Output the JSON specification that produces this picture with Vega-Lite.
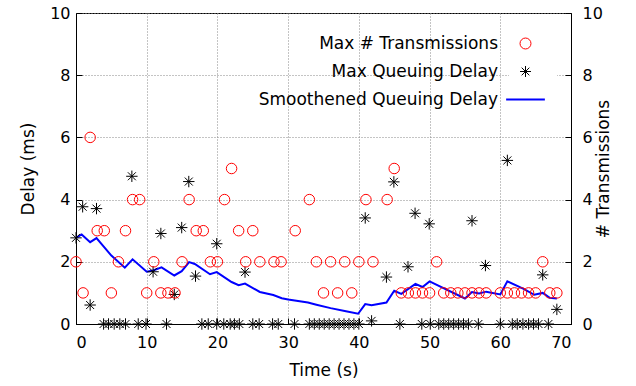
{
  "$schema": "https://vega.github.io/schema/vega-lite/v6.json",
  "width": 495,
  "height": 311,
  "autosize": {"type": "none"},
  "padding": {"left": 76, "top": 13, "right": 65, "bottom": 62},
  "background": "white",
  "config": {
    "font": "DejaVu Sans",
    "view": {"stroke": "black", "strokeWidth": 1},
    "axis": {
      "labelFontSize": 16,
      "titleFontSize": 17,
      "labelColor": "black",
      "titleColor": "black",
      "titleFontWeight": "normal",
      "domainColor": "black",
      "tickColor": "black",
      "gridColor": "#888888",
      "gridDash": [1, 2],
      "gridOpacity": 1,
      "tickSize": -6
    },
    "legend": {
      "title": null,
      "orient": "top-right",
      "offset": 14,
      "padding": 8,
      "labelFontSize": 17,
      "labelColor": "black",
      "labelLimit": 400,
      "labelAlign": "right",
      "labelOffset": -36,
      "fillColor": "white",
      "rowPadding": 10,
      "symbolStrokeWidth": 1
    }
  },
  "datasets": {
    "tx": [
      {"t": 0, "v": 2}, {"t": 1, "v": 1}, {"t": 2, "v": 6}, {"t": 3, "v": 3}, {"t": 4, "v": 3},
      {"t": 5, "v": 1}, {"t": 6, "v": 2}, {"t": 7, "v": 3}, {"t": 8, "v": 4}, {"t": 9, "v": 4},
      {"t": 10, "v": 1}, {"t": 11, "v": 2}, {"t": 12, "v": 1}, {"t": 13, "v": 1}, {"t": 14, "v": 1},
      {"t": 15, "v": 2}, {"t": 16, "v": 4}, {"t": 17, "v": 3}, {"t": 18, "v": 3}, {"t": 19, "v": 2},
      {"t": 20, "v": 2}, {"t": 21, "v": 4}, {"t": 22, "v": 5}, {"t": 23, "v": 3}, {"t": 24, "v": 2},
      {"t": 25, "v": 3}, {"t": 26, "v": 2}, {"t": 28, "v": 2}, {"t": 29, "v": 2}, {"t": 31, "v": 3},
      {"t": 33, "v": 4}, {"t": 34, "v": 2}, {"t": 35, "v": 1}, {"t": 36, "v": 2}, {"t": 37, "v": 1},
      {"t": 38, "v": 2}, {"t": 39, "v": 1}, {"t": 40, "v": 2}, {"t": 41, "v": 4}, {"t": 42, "v": 2},
      {"t": 44, "v": 4}, {"t": 45, "v": 5}, {"t": 46, "v": 1}, {"t": 47, "v": 1}, {"t": 48, "v": 1},
      {"t": 49, "v": 1}, {"t": 50, "v": 1}, {"t": 51, "v": 2}, {"t": 52, "v": 1}, {"t": 53, "v": 1},
      {"t": 54, "v": 1}, {"t": 55, "v": 1}, {"t": 56, "v": 1}, {"t": 57, "v": 1}, {"t": 58, "v": 1},
      {"t": 60, "v": 1}, {"t": 61, "v": 1}, {"t": 62, "v": 1}, {"t": 63, "v": 1}, {"t": 64, "v": 1},
      {"t": 65, "v": 1}, {"t": 66, "v": 2}, {"t": 67, "v": 1}, {"t": 68, "v": 1}
    ],
    "qd": [
      {"t": 0, "v": 2.77}, {"t": 0.94, "v": 3.77}, {"t": 2, "v": 0.61}, {"t": 2.9, "v": 3.71},
      {"t": 3.9, "v": 0}, {"t": 4.6, "v": 0}, {"t": 5.4, "v": 0}, {"t": 6.2, "v": 0}, {"t": 7.0, "v": 0},
      {"t": 7.9, "v": 4.75}, {"t": 8.8, "v": 0}, {"t": 9.9, "v": 0}, {"t": 10.9, "v": 1.68},
      {"t": 12, "v": 2.91}, {"t": 12.8, "v": 0}, {"t": 13.9, "v": 0.95}, {"t": 14.95, "v": 3.1},
      {"t": 15.95, "v": 4.58}, {"t": 16.9, "v": 1.54}, {"t": 17.8, "v": 0}, {"t": 18.7, "v": 0},
      {"t": 19.9, "v": 2.58}, {"t": 19.9, "v": 0}, {"t": 20.9, "v": 0}, {"t": 21.8, "v": 0},
      {"t": 22.4, "v": 0}, {"t": 23.1, "v": 0}, {"t": 23.9, "v": 1.67}, {"t": 25.0, "v": 0},
      {"t": 25.9, "v": 0}, {"t": 27.8, "v": 0}, {"t": 28.6, "v": 0}, {"t": 30.9, "v": 0},
      {"t": 33.0, "v": 0}, {"t": 33.7, "v": 0}, {"t": 34.4, "v": 0}, {"t": 35.1, "v": 0},
      {"t": 35.8, "v": 0}, {"t": 36.5, "v": 0}, {"t": 37.2, "v": 0}, {"t": 37.9, "v": 0},
      {"t": 38.6, "v": 0}, {"t": 39.3, "v": 0}, {"t": 40.0, "v": 0}, {"t": 40.9, "v": 3.41},
      {"t": 41.8, "v": 0.1}, {"t": 43.9, "v": 1.51}, {"t": 44.95, "v": 4.57}, {"t": 45.8, "v": 0},
      {"t": 46.95, "v": 1.84}, {"t": 47.95, "v": 3.56}, {"t": 48.9, "v": 0}, {"t": 49.95, "v": 3.22},
      {"t": 50.1, "v": 0}, {"t": 51.3, "v": 0}, {"t": 52.0, "v": 0}, {"t": 52.7, "v": 0},
      {"t": 53.4, "v": 0}, {"t": 54.1, "v": 0}, {"t": 54.8, "v": 0}, {"t": 55.5, "v": 0},
      {"t": 56, "v": 3.32}, {"t": 56.9, "v": 0}, {"t": 57.9, "v": 1.88}, {"t": 60.0, "v": 0},
      {"t": 61, "v": 5.26}, {"t": 61.7, "v": 0}, {"t": 62.4, "v": 0}, {"t": 63.2, "v": 0},
      {"t": 64.0, "v": 0}, {"t": 64.7, "v": 0}, {"t": 65.4, "v": 0}, {"t": 66, "v": 1.58},
      {"t": 66.8, "v": 0}, {"t": 68, "v": 0.47}
    ],
    "sm": [
      {"t": 0, "v": 2.77}, {"t": 0.8, "v": 2.88}, {"t": 2, "v": 2.63}, {"t": 2.9, "v": 2.76},
      {"t": 5, "v": 2.2}, {"t": 6.9, "v": 1.81}, {"t": 8, "v": 2.08}, {"t": 10, "v": 1.68},
      {"t": 10.9, "v": 1.72}, {"t": 12.1, "v": 1.82}, {"t": 13.9, "v": 1.56}, {"t": 14.95, "v": 1.7},
      {"t": 16, "v": 1.99}, {"t": 16.8, "v": 1.93}, {"t": 18.95, "v": 1.6}, {"t": 19.9, "v": 1.67},
      {"t": 22, "v": 1.35}, {"t": 23, "v": 1.25}, {"t": 23.9, "v": 1.3}, {"t": 26, "v": 1.03},
      {"t": 27.9, "v": 0.93}, {"t": 29.1, "v": 0.83}, {"t": 30, "v": 0.79}, {"t": 32.8, "v": 0.69},
      {"t": 34, "v": 0.62}, {"t": 36, "v": 0.51}, {"t": 38, "v": 0.42}, {"t": 39.9, "v": 0.33},
      {"t": 40.9, "v": 0.64}, {"t": 41.8, "v": 0.6}, {"t": 43.9, "v": 0.69}, {"t": 45, "v": 1.07},
      {"t": 46, "v": 0.97}, {"t": 48, "v": 1.29}, {"t": 49, "v": 1.19}, {"t": 50, "v": 1.37},
      {"t": 55, "v": 0.82}, {"t": 56, "v": 1.03}, {"t": 57, "v": 0.98}, {"t": 58, "v": 1.04},
      {"t": 60, "v": 0.95}, {"t": 61, "v": 1.37}, {"t": 63.3, "v": 1.13}, {"t": 64.8, "v": 0.94},
      {"t": 66, "v": 1.0}, {"t": 67, "v": 0.84}, {"t": 68, "v": 0.82}
    ]
  },
  "layer": [
    {
      "layer": [
        {
          "data": {"name": "sm"},
          "transform": [{"calculate": "'Smoothened Queuing Delay'", "as": "series"}],
          "mark": {"type": "line", "strokeWidth": 2, "clip": true},
          "encoding": {
            "x": {"field": "t", "type": "quantitative"},
            "y": {"field": "v", "type": "quantitative"},
            "color": {
              "field": "series", "type": "nominal",
              "legend": {
                "encode": {
                  "symbols": {
                    "update": {
                      "size": {"signal": "datum.value === 'Smoothened Queuing Delay' ? 1500 : 120"},
                      "strokeWidth": {"signal": "datum.value === 'Smoothened Queuing Delay' ? 2 : 1"}
                    },
                    "size": {"signal": "datum.value === 'Smoothened Queuing Delay' ? 1500 : 120"},
                    "strokeWidth": {"signal": "datum.value === 'Smoothened Queuing Delay' ? 2 : 1"}
                  }
                }
              }
            }
          }
        },
        {
          "data": {"name": "qd"},
          "transform": [{"calculate": "'Max Queuing Delay'", "as": "series"}],
          "mark": {"type": "point", "filled": false, "opacity": 1, "size": 130, "strokeWidth": 1},
          "encoding": {
            "x": {"field": "t", "type": "quantitative"},
            "y": {"field": "v", "type": "quantitative"},
            "color": {"field": "series", "type": "nominal"},
            "shape": {"field": "series", "type": "nominal"}
          }
        }
      ],
      "encoding": {
        "x": {
          "field": "t", "type": "quantitative",
          "scale": {"domain": [0, 70], "nice": false},
          "axis": {"title": "Time (s)", "values": [0, 10, 20, 30, 40, 50, 60, 70], "grid": true, "labelPadding": 16, "titlePadding": 12}
        },
        "y": {
          "field": "v", "type": "quantitative",
          "scale": {"domain": [0, 10], "nice": false},
          "axis": {"title": "Delay (ms)", "orient": "left", "values": [0, 2, 4, 6, 8, 10], "grid": true, "labelPadding": 12, "titlePadding": 12}
        }
      }
    },
    {
      "data": {"name": "tx"},
      "transform": [{"calculate": "'Max # Transmissions'", "as": "series"}],
      "mark": {"type": "point", "filled": false, "opacity": 1, "size": 110, "strokeWidth": 1},
      "encoding": {
        "x": {"field": "t", "type": "quantitative"},
        "y": {
          "field": "v", "type": "quantitative",
          "scale": {"domain": [0, 10], "nice": false},
          "axis": {"title": "# Transmissions", "orient": "right", "values": [0, 2, 4, 6, 8, 10], "grid": false, "labelPadding": 17, "titlePadding": 10, "titleAngle": 270}
        },
        "color": {
          "field": "series", "type": "nominal",
          "scale": {
            "domain": ["Max # Transmissions", "Max Queuing Delay", "Smoothened Queuing Delay"],
            "range": ["#ff0000", "#000000", "#0000ff"]
          }
        },
        "shape": {
          "field": "series", "type": "nominal",
          "scale": {
            "domain": ["Max # Transmissions", "Max Queuing Delay", "Smoothened Queuing Delay"],
            "range": ["circle", "M-1,0L1,0M0,-1L0,1M-0.7,-0.7L0.7,0.7M-0.7,0.7L0.7,-0.7", "stroke"]
          }
        }
      }
    }
  ],
  "resolve": {"scale": {"y": "independent"}}
}
